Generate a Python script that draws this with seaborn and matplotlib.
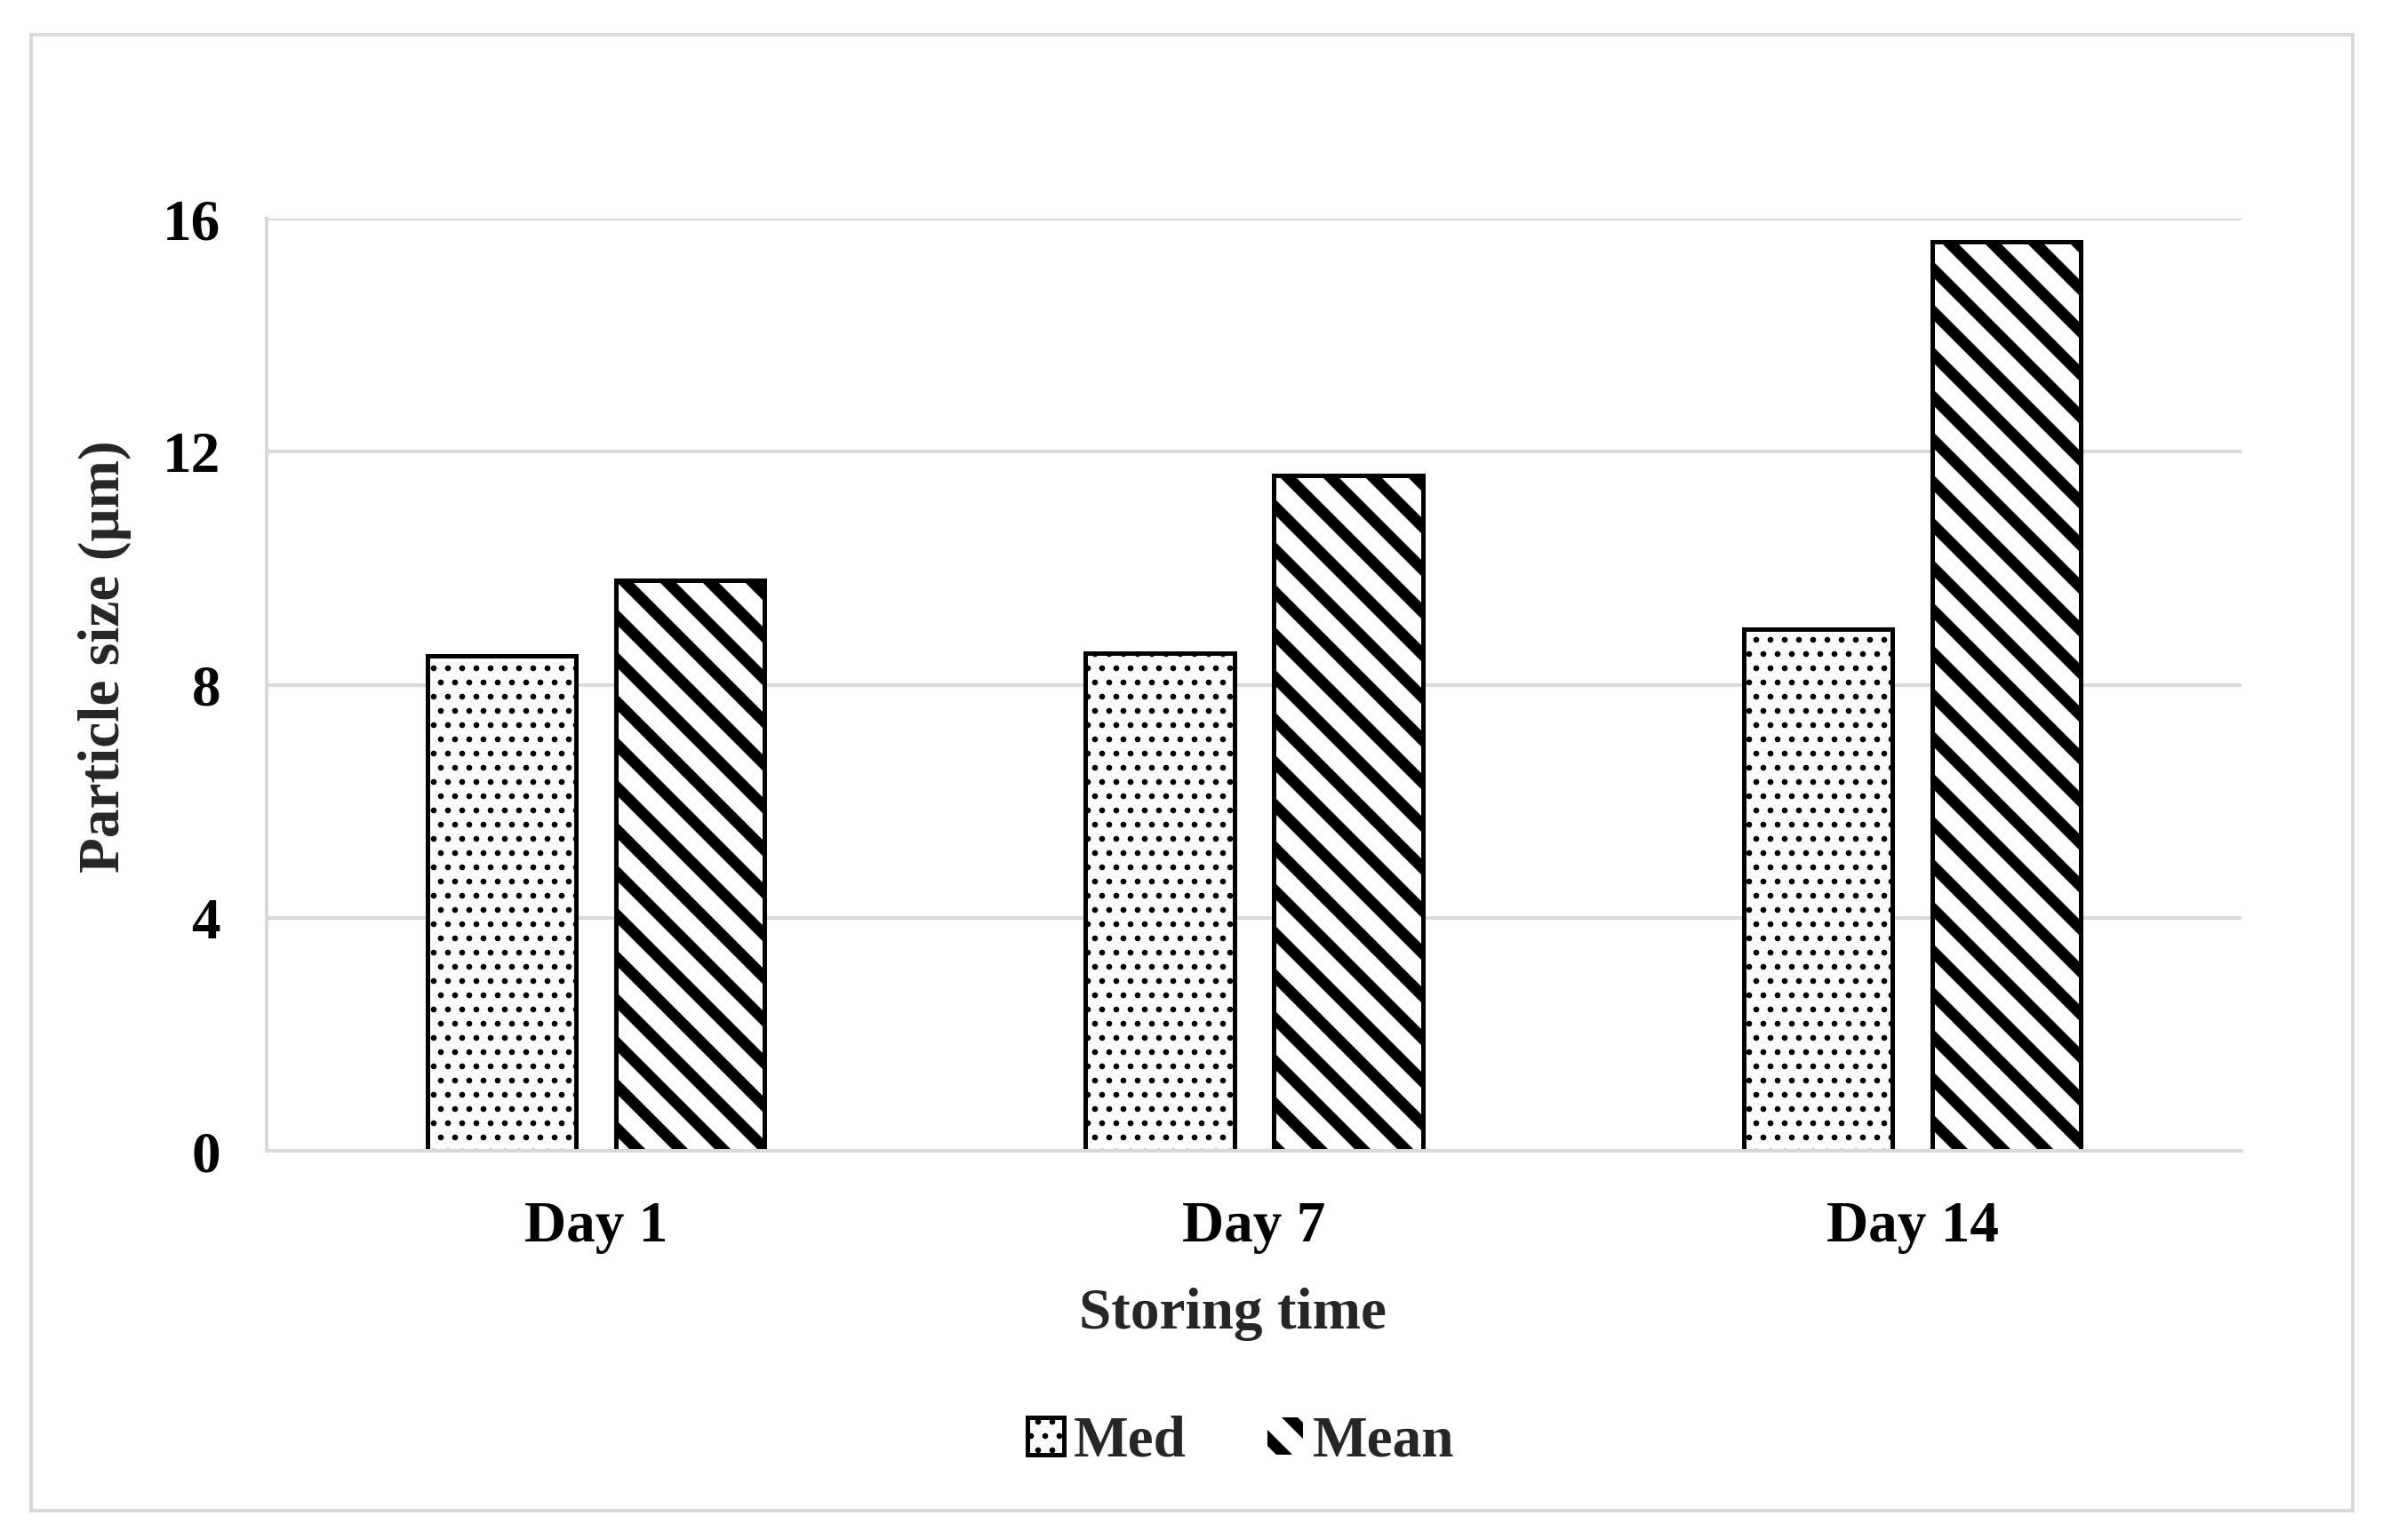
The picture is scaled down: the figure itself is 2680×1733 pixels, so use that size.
import numpy as np
import pandas as pd
import matplotlib
matplotlib.use("Agg")
import matplotlib.pyplot as plt
import seaborn as sns
from matplotlib.patches import Rectangle

days = ["Day 1", "Day 7", "Day 14"]
med = [8.5, 8.55, 8.95]
mean = [9.8, 11.6, 15.6]
series = ["Med", "Mean"]
yticks = [0, 4, 8, 12, 16]

df = pd.DataFrame({
    "day": days * 2,
    "size": med + mean,
    "stat": [series[0]] * len(days) + [series[1]] * len(days),
})

sns.set_theme(style="white")
plt.rcParams["font.family"] = ["Liberation Serif", "DejaVu Serif"]
plt.rcParams["font.weight"] = "bold"
plt.rcParams["hatch.color"] = "black"

grey = "#d9d9d9"
fs = 16.3

fig, ax = plt.subplots(figsize=(2680 / 288, 1733 / 288), dpi=288)
fig.subplots_adjust(left=0.112, right=0.941, top=0.858, bottom=0.2527)

sns.barplot(
    data=df, x="day", y="size", hue="stat",
    order=days, hue_order=series,
    palette=["white", "white"], saturation=1,
    width=0.572, gap=0.21,
    edgecolor="black", linewidth=1.25,
    legend=False, ax=ax,
)

# hatch patterns: dots for median, thick diagonal stripes for mean
hatches = ["...", "\\\\"]
hatch_lw = [0.85, 3.2]
for cont, h, hl in zip(ax.containers, hatches, hatch_lw):
    for bar in cont:
        bar.set_hatch(h)
        if hasattr(bar, "set_hatch_linewidth"):
            bar.set_hatch_linewidth(hl)

ax.set_ylim(0, 16)
ax.set_yticks(yticks)
ax.yaxis.grid(True, color=grey, lw=1)
ax.set_axisbelow(True)
for s in ["top", "right"]:
    ax.spines[s].set_visible(False)
for s in ["left", "bottom"]:
    ax.spines[s].set_color(grey)
    ax.spines[s].set_linewidth(1)

ax.tick_params(axis="both", length=0, labelsize=fs, colors="black")
ax.tick_params(axis="x", pad=14)
ax.tick_params(axis="y", pad=13)

ax.set_xlabel("Storing time", fontsize=fs, fontweight="bold", labelpad=9.5)
ax.xaxis.label.set_x(0.489)
ax.set_ylabel("Particle size (μm)", fontsize=fs, fontweight="bold")
ax.yaxis.set_label_coords(-0.0685, 0.53)

leg = fig.legend(
    handles=list(ax.containers), labels=series,
    loc="center", bbox_to_anchor=(0.521, 0.0635), ncol=2,
    frameon=False, fontsize=fs,
    handlelength=0.625, handleheight=0.625,
    handletextpad=0.16, columnspacing=1.4,
)
for hnd, h, hl in zip(leg.legend_handles, hatches, hatch_lw):
    hnd.set_hatch(h)
    if hasattr(hnd, "set_hatch_linewidth"):
        hnd.set_hatch_linewidth(hl)
leg.legend_handles[1].set_linewidth(0)

fig.add_artist(Rectangle((0.0131, 0.019), 0.9746, 0.9585,
                         transform=fig.transFigure, fill=False,
                         edgecolor=grey, lw=1))

fig.savefig("out.png", dpi=288, facecolor="white")
